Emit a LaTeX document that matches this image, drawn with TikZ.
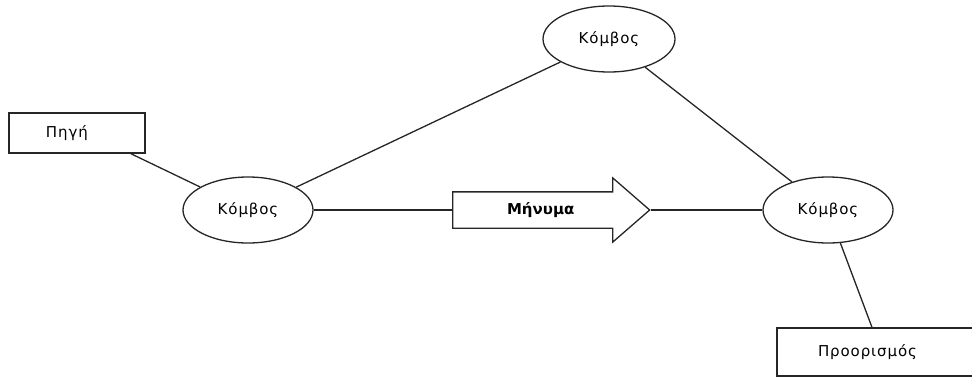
\documentclass[tikz,border=0pt]{standalone}
\usepackage{fontspec}
\setmainfont{DejaVu Sans}[LetterSpace=6]
\newfontfamily\msgfont{DejaVu Sans}
\usetikzlibrary{shapes.geometric,shapes.arrows}
\begin{document}
\begin{tikzpicture}[x=1pt,y=-1pt,
  every node/.style={font=\fontsize{15}{18}\selectfont, text=black},
  knot/.style={draw=black!85, line width=1.3pt, ellipse, minimum width=130pt, minimum height=66pt, inner sep=0pt},
  endbox/.style={draw=black!85, line width=1.3pt, rectangle, inner sep=0pt, align=left},
  msgarrow/.style={draw=black!85, line width=1.3pt, single arrow, minimum height=197pt,
    single arrow head extend=14pt, single arrow tip angle=82,
    text height=11pt, text depth=3pt, inner ysep=10.5pt, inner xsep=4pt,
    font=\msgfont\fontsize{15}{18}\selectfont\bfseries},
  link/.style={draw=black!85, line width=1.3pt}]
\useasboundingbox (0,0) rectangle (972,378);

% endpoints
\node[endbox, minimum width=136pt, minimum height=40pt, text width=136pt] (pigi) at (77,133) {\hspace*{37pt}Πηγή};
\node[endbox, minimum width=206pt, minimum height=48pt, text width=206pt] (dest) at (880,352) {\hspace*{41pt}Προορισμός};

% network nodes
\node[knot] (k1) at (248,210) {Κόμβος};
\node[knot, minimum width=132pt] (k2) at (609,39) {Κόμβος};
\node[knot] (k3) at (828,210) {Κόμβος};

% the message travelling between the nodes
\node[msgarrow, anchor=tail] (msg) at (452,210) {Μήνυμα};

% links
\draw[link] (pigi.-21) -- (k1);
\draw[link] (k1) -- (k2);
\draw[link] (k2) -- (k3);
\draw[link] (k1.east) -- (msg.tail);
\draw[link] (msg.tip) -- (k3.west);
\draw[link] (k3) -- (dest.108);
\end{tikzpicture}
\end{document}
